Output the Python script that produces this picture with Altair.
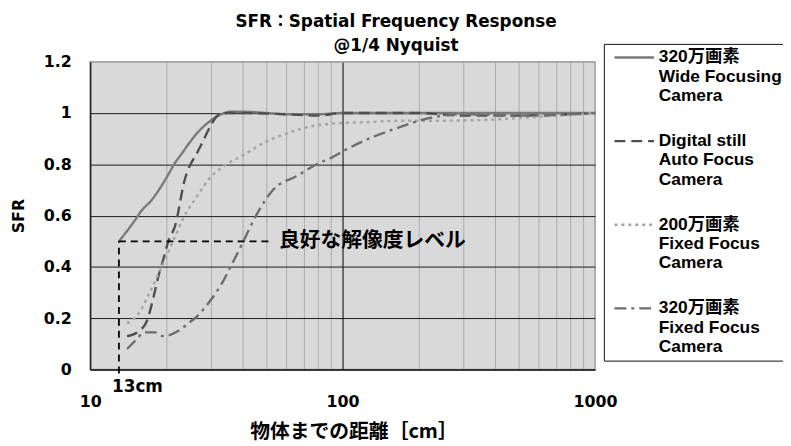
import altair as alt
import pandas as pd

CJK = "Noto Sans CJK JP"
LATIN = "DejaVu Sans, Noto Sans CJK JP"
LEGF = "Liberation Sans, Noto Sans CJK JP"

# ---- data ----
series_names = [
    "320万画素|Wide Focusing|Camera",
    "Digital still|Auto Focus|Camera",
    "200万画素|Fixed Focus|Camera",
    "320万画素|Fixed Focus|Camera",
]

wide_x = [13, 14, 15, 16, 17.5, 19, 20.4, 21.5, 23, 25, 27, 30, 33, 36, 40, 50, 60, 80, 100, 200, 400, 1000]
wide_y = [0.50, 0.54, 0.58, 0.62, 0.66, 0.71, 0.76, 0.80, 0.84, 0.89, 0.93, 0.97, 0.995, 1.005, 1.005, 1.0, 0.995, 0.995, 1.0, 1.0, 1.0, 1.0]

af_x = [14, 15.6, 16.8, 17.8, 18.6, 19.5, 20.4, 21.7, 23.7, 26.7, 28, 30, 32, 35, 40, 60, 80, 100, 200, 300, 500, 800, 1000]
af_y = [0.13, 0.15, 0.19, 0.28, 0.36, 0.43, 0.50, 0.56, 0.74, 0.85, 0.89, 0.95, 0.99, 1.0, 1.0, 0.995, 0.99, 1.0, 1.0, 0.99, 0.99, 0.995, 1.0]

f2_x = [14, 15.6, 17, 18.6, 20, 21.3, 23.4, 26.7, 30, 32, 36, 39.5, 49, 60, 77, 95, 130, 163, 250, 400, 600, 1000]
f2_y = [0.18, 0.22, 0.29, 0.37, 0.44, 0.50, 0.59, 0.68, 0.75, 0.775, 0.81, 0.83, 0.885, 0.92, 0.95, 0.96, 0.965, 0.97, 0.97, 0.975, 0.985, 1.0]

f3_x = [14, 15, 16.5, 18.1, 19.5, 22.3, 24.5, 26.7, 30, 33, 36, 40, 46, 53, 66, 79, 92, 100, 127, 163, 220, 300, 500, 1000]
f3_y = [0.08, 0.11, 0.145, 0.145, 0.13, 0.15, 0.18, 0.21, 0.27, 0.33, 0.40, 0.49, 0.61, 0.70, 0.755, 0.80, 0.83, 0.85, 0.90, 0.94, 0.98, 0.995, 0.99, 1.0]

x_ticks = [10, 20, 30, 40, 50, 60, 70, 80, 90, 100, 200, 300, 400, 500, 600, 700, 800, 900, 1000]
y_ticks = [0, 0.2, 0.4, 0.6, 0.8, 1.0, 1.2]

# annotation
level = 0.5
near_cm = 13
level_line_end = 52
level_text_x = 56
level_text = "良好な解像度レベル"
near_label = "13cm"
near_label_y = -0.068
rule_bottom = -0.015

colors = ["#7a7a7a", "#4f4f4f", "#a3a3a3", "#6e6e6e"]
dashes = [[1, 0], [11, 6], [3, 4], [12, 5, 3, 5]]

rows = []
for name, xs, ys in zip(series_names, [wide_x, af_x, f2_x, f3_x], [wide_y, af_y, f2_y, f3_y]):
    for i, (a, b) in enumerate(zip(xs, ys)):
        rows.append({"series": name, "dist": a, "sfr": b, "order": i})
df = pd.DataFrame(rows)

W, H = 510, 311

xscale = alt.Scale(type="log", domain=[10, 1000], nice=False)
yscale = alt.Scale(domain=[0, 1.2], nice=False, zero=False)

xaxis = alt.Axis(
    values=x_ticks, format="d",
    labelExpr="datum.value == 10 || datum.value == 100 || datum.value == 1000 ? datum.label : ''",
    title="物体までの距離［cm］", titleFont=CJK, titleFontSize=20, titleX=266, ticks=False,
    grid=True, gridColor={"condition": {"test": "datum.value == 100", "value": "#000000"}, "value": "#ababab"},
    gridWidth=1, domainColor="#222222", domainWidth=1.5,
    labelPadding=24, titlePadding=13, labelFlush=False,
)
yaxis = alt.Axis(
    values=y_ticks, format="~g", title="SFR", ticks=False,
    grid=True, gridColor={"condition": {"test": "datum.value > 1.1", "value": "#a6a6a6"}, "value": "#1a1a1a"},
    gridWidth=1, domainColor="#222222", domainWidth=1.5,
    labelPadding=19, titlePadding=17, labelFlush=False,
)

leg = alt.Legend(title=None, labelExpr="split(datum.label, '|')")

lines = alt.Chart(df).mark_line(strokeWidth=2.4, interpolate="monotone", clip=True).encode(
    x=alt.X("dist:Q", scale=xscale, axis=xaxis),
    y=alt.Y("sfr:Q", scale=yscale, axis=yaxis),
    color=alt.Color("series:N", scale=alt.Scale(domain=series_names, range=colors), legend=leg),
    strokeDash=alt.StrokeDash("series:N", scale=alt.Scale(domain=series_names, range=dashes), legend=leg),
    order="order:Q",
)

ann = pd.DataFrame({"x": [near_cm], "x2": [level_line_end], "y": [level], "y0": [rule_bottom],
                    "tx": [level_text_x], "t": [level_text], "lx": [near_cm], "ly": [near_label_y], "l": [near_label]})

hrule = alt.Chart(ann).mark_rule(color="black", strokeWidth=1.8, strokeDash=[7, 5]).encode(
    x="x:Q", x2="x2:Q", y="y:Q")
vrule = alt.Chart(ann).mark_rule(color="black", strokeWidth=1.8, strokeDash=[7, 5]).encode(
    x="x:Q", y="y0:Q", y2="y:Q")
ltext = alt.Chart(ann).mark_text(align="left", baseline="middle", font=CJK, fontSize=21,
                                 fontWeight="bold", color="black").encode(
    x="tx:Q", y="y:Q", text="t:N")
ntext = alt.Chart(ann).mark_text(align="left", baseline="middle", font=LATIN, fontSize=17,
                                 fontWeight="bold", color="black", dx=-7).encode(
    x="lx:Q", y="ly:Q", text="l:N")

chart = alt.layer(lines, hrule, vrule, ltext, ntext).properties(
    width=W, height=H,
    title=alt.TitleParams(
        text=["SFR：Spatial Frequency Response", "@1/4 Nyquist"],
        font=LATIN, fontSize=17, fontWeight="bold", color="black",
        anchor="middle", dx=54, dy=22, offset=10, lineHeight=25,
    ),
    autosize=alt.AutoSizeParams(type="none"),
    padding={"left": 83, "top": 52, "right": 190, "bottom": 75},
).configure_view(
    fill="#d9d9d9", stroke="#a6a6a6", strokeWidth=1.5,
).configure_axis(
    labelFont=LATIN, labelFontSize=16, labelFontWeight="bold", labelColor="black",
    titleFont=LATIN, titleFontSize=16, titleFontWeight="bold", titleColor="black",
).configure_legend(
    orient="none", legendX=519, legendY=-18,
    fillColor="white", strokeColor="#111111", padding=5,
    symbolType="M-5,0L5,0", symbolSize=64, symbolStrokeWidth=2.4, symbolOffset=17,
    labelFont=LEGF, labelFontSize=17.5, labelFontWeight="bold", labelColor="black",
    labelLimit=0, rowPadding=26.5, labelOffset=16,
)

chart.save("out.html", embed_options={"renderer": "svg", "actions": False})
